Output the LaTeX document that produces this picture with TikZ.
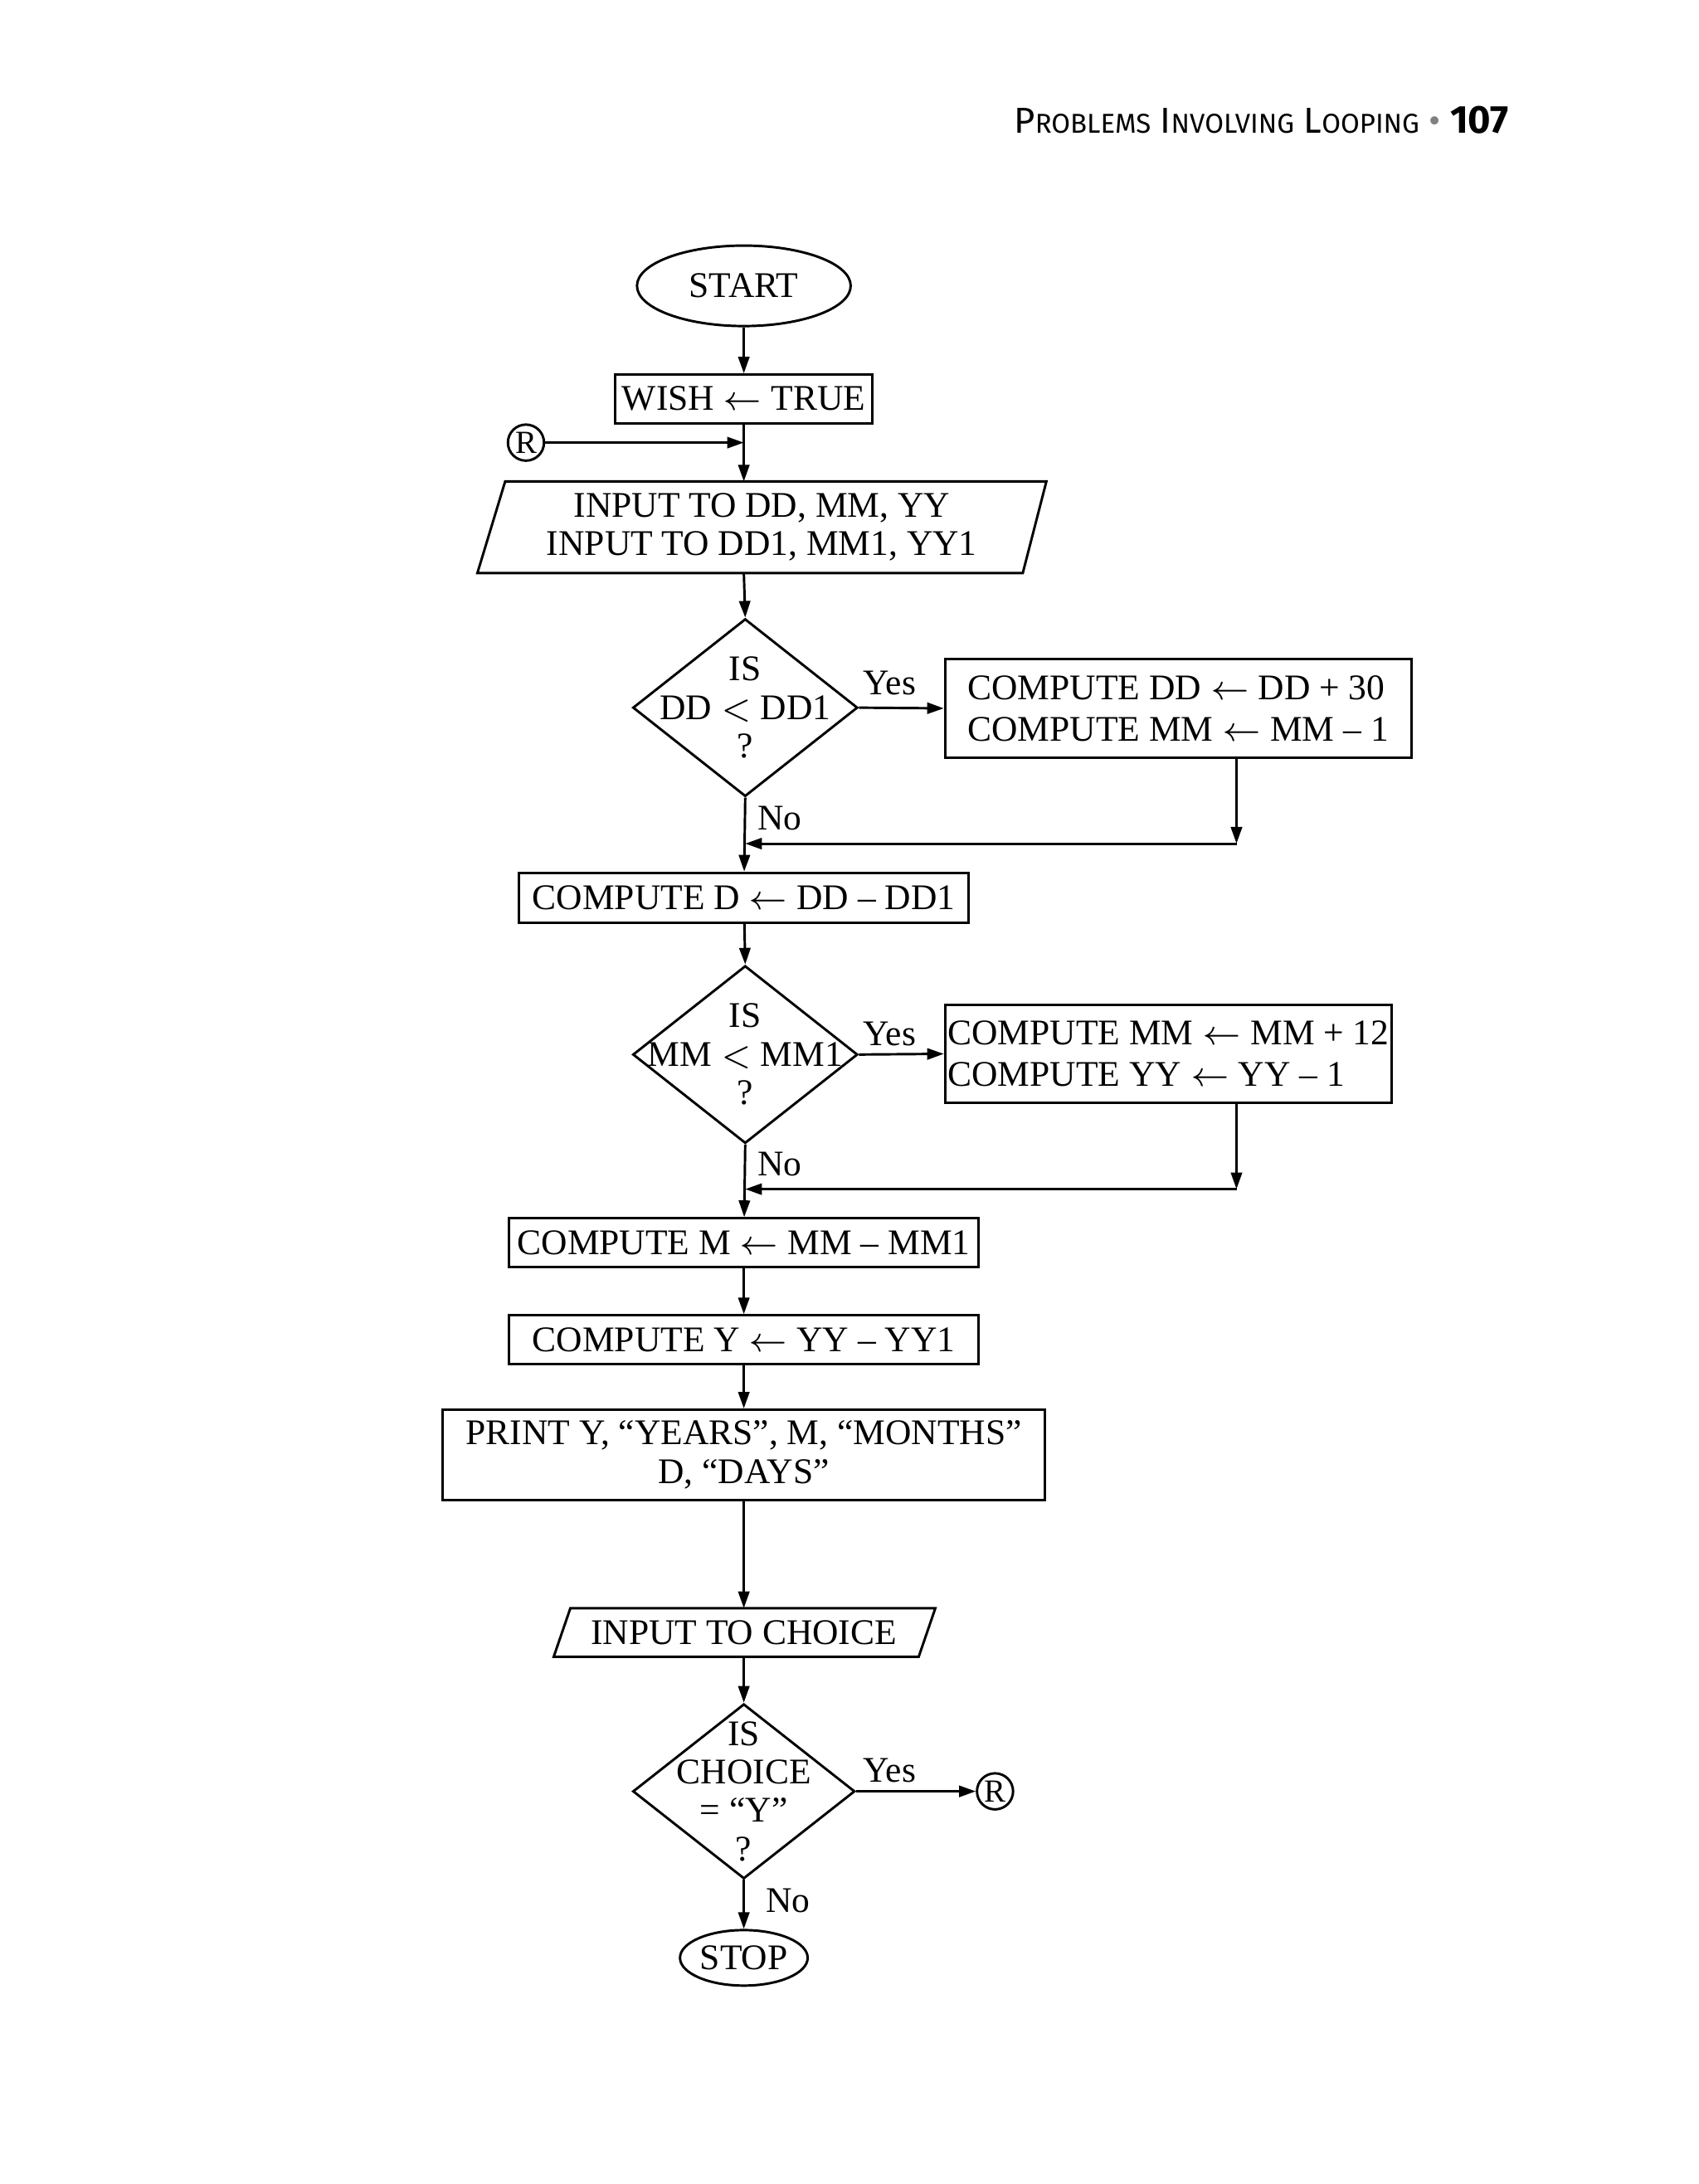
\documentclass[tikz,border=0pt]{standalone}
\usepackage{fontspec}
\setmainfont{Liberation Serif}
\newfontfamily\hdfont{Fira Sans}
\usetikzlibrary{shapes.geometric,arrows.meta}
\newcommand{\bigc}[1]{{\fontsize{7.4}{8}\selectfont #1}}
\newcommand{\smc}[1]{{\fontsize{5.6}{6}\selectfont #1}}
\begin{document}
\begin{tikzpicture}[
    line width=0.5pt,
    every node/.style={font=\fontsize{7.4}{7.9}\selectfont},
    box/.style={draw,rectangle,inner sep=0pt},
    term/.style={draw,ellipse,inner sep=0pt},
    dia/.style={draw,diamond,inner sep=0pt,minimum width=1.62cm,minimum height=1.28cm},
    ref/.style={draw,circle,inner sep=0pt,minimum size=0.26cm,font=\fontsize{6.6}{7}\selectfont},
    lbl/.style={inner sep=0pt},
    arr/.style={-{Triangle[length=1.2mm,width=0.8mm]}}]
  \useasboundingbox (0,0) rectangle (12.24,-15.74);
  % header
  \node[lbl,anchor=base east] (hd) at (10.88,-0.96) {\hdfont \bigc{P}\smc{ROBLEMS} \bigc{I}\smc{NVOLVING} \bigc{L}\smc{OOPING} \textcolor{gray}{\bigc{\textbullet}} \fontsize{8}{9}\selectfont\textbf{107}};
  % nodes
  \node[term,minimum width=1.54cm,minimum height=0.58cm] (start) at (5.36,-2.06) {START};
  \node[box,minimum width=1.85cm,minimum height=0.35cm] (wish) at (5.36,-2.875) {WISH $\leftarrow$ TRUE};
  \node[ref] (rA) at (3.79,-3.19) {R};
  \coordinate (j1) at (5.36,-3.19);
  \node[lbl,align=center] (in1) at (5.49,-3.80) {INPUT TO DD, MM, YY\\INPUT TO DD1, MM1, YY1};
  \draw (3.64,-3.47) -- (7.54,-3.47) -- (7.37,-4.13) -- (3.44,-4.13) -- cycle;
  \coordinate (in1t) at (5.36,-3.47);
  \coordinate (in1b) at (5.36,-4.13);
  \node[dia] (d1) at (5.37,-5.10) {};
  \node[lbl,align=center] (d1t) at (d1) {IS\\DD $<$ DD1\\?};
  \node[box,minimum width=3.36cm,minimum height=0.71cm,align=left,font=\fontsize{7.4}{8.5}\selectfont] (c1) at (8.49,-5.105) {COMPUTE DD $\leftarrow$ DD + 30\\COMPUTE MM $\leftarrow$ MM -- 1};
  \node[lbl] (y1) at (6.41,-4.92) {Yes};
  \node[lbl] (n1) at (5.62,-5.90) {No};
  \coordinate (c1b) at (8.91,-5.46);
  \coordinate (r1) at (8.91,-6.08);
  \coordinate (m1) at (5.37,-6.08);
  \node[box,minimum width=3.24cm,minimum height=0.36cm] (cd) at (5.36,-6.47) {COMPUTE D $\leftarrow$ DD -- DD1};
  \node[dia] (d2) at (5.37,-7.60) {};
  \node[lbl,align=center] (d2t) at (d2) {IS\\MM $<$ MM1\\?};
  \node[box,minimum width=3.22cm,minimum height=0.71cm,align=left,font=\fontsize{7.4}{8.5}\selectfont] (c2) at (8.42,-7.595) {COMPUTE MM $\leftarrow$ MM + 12\\COMPUTE YY $\leftarrow$ YY -- 1};
  \node[lbl] (y2) at (6.41,-7.45) {Yes};
  \node[lbl] (n2) at (5.62,-8.39) {No};
  \coordinate (c2b) at (8.91,-7.95);
  \coordinate (r2) at (8.91,-8.57);
  \coordinate (m2) at (5.37,-8.57);
  \node[box,minimum width=3.38cm,minimum height=0.35cm] (cm) at (5.36,-8.955) {COMPUTE M $\leftarrow$ MM -- MM1};
  \node[box,minimum width=3.38cm,minimum height=0.35cm] (cy) at (5.36,-9.655) {COMPUTE Y $\leftarrow$ YY -- YY1};
  \node[box,minimum width=4.34cm,minimum height=0.65cm,align=center] (pr) at (5.36,-10.485) {PRINT Y, ``YEARS'', M, ``MONTHS''\\D, ``DAYS''};
  \node[lbl] (ic) at (5.36,-11.765) {INPUT TO CHOICE};
  \draw (4.11,-11.59) -- (6.74,-11.59) -- (6.62,-11.94) -- (3.99,-11.94) -- cycle;
  \coordinate (ict) at (5.36,-11.59);
  \coordinate (icb) at (5.36,-11.94);
  \node[dia,minimum width=1.60cm,minimum height=1.26cm] (d3) at (5.36,-12.91) {};
  \node[lbl,align=center,font=\fontsize{7.4}{7.9}\selectfont] (d3t) at (d3) {IS\\CHOICE\\= ``Y''\\?};
  \node[ref] (rB) at (7.17,-12.91) {R};
  \node[lbl] (y3) at (6.41,-12.76) {Yes};
  \node[lbl] (n3) at (5.68,-13.70) {No};
  \node[term,minimum width=0.92cm,minimum height=0.40cm] (stop) at (5.36,-14.11) {STOP};
  % connectors
  \draw[arr] (start) -- (wish);
  \draw[arr] (rA) -- (j1);
  \draw[arr] (wish) -- (in1t);
  \draw[arr] (in1b) -- (d1.north);
  \draw[arr] (d1.east) -- (c1.west);
  \draw[arr] (c1b) -- (r1);
  \draw[arr] (r1) -- (m1);
  \draw[arr] (d1.south) -- (cd);
  \draw[arr] (cd) -- (d2.north);
  \draw[arr] (d2.east) -- (c2.west);
  \draw[arr] (c2b) -- (r2);
  \draw[arr] (r2) -- (m2);
  \draw[arr] (d2.south) -- (cm);
  \draw[arr] (cm) -- (cy);
  \draw[arr] (cy) -- (pr);
  \draw[arr] (pr) -- (ict);
  \draw[arr] (icb) -- (d3.north);
  \draw[arr] (d3.east) -- (rB);
  \draw[arr] (d3.south) -- (stop);
\end{tikzpicture}
\end{document}
